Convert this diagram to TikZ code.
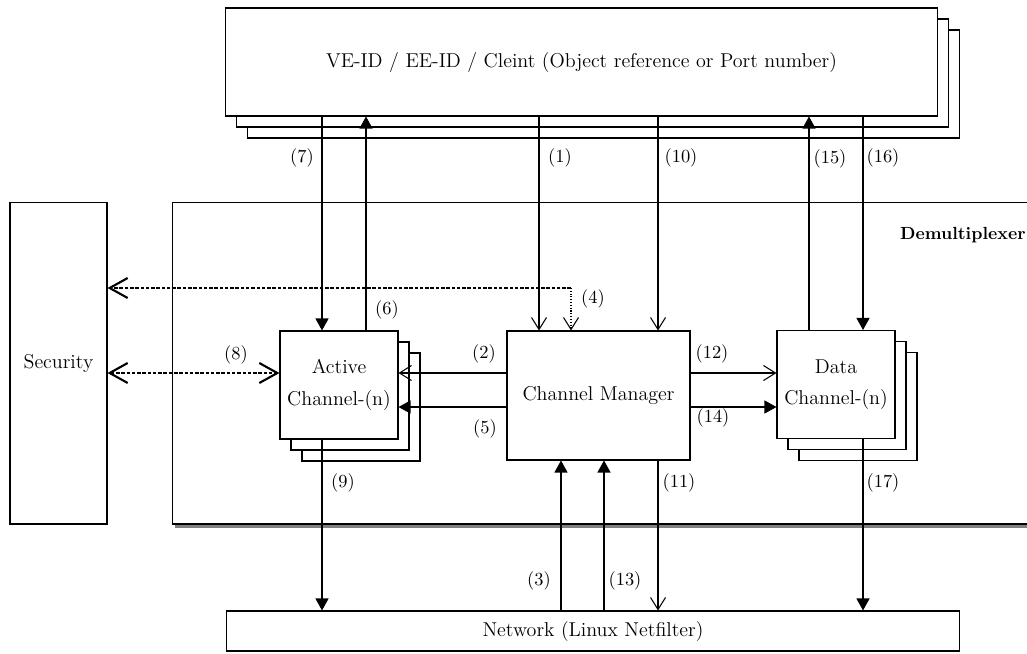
\documentclass[tikz,border=0pt]{standalone}
\usepackage{tikz}
\usetikzlibrary{arrows.meta,shadows,positioning}

\newcommand{\boxfont}{\fontsize{11.4}{18}\selectfont}
\newcommand{\lblfont}{\fontsize{10.5}{12}\selectfont}

\begin{document}
\begin{tikzpicture}[
    x=0.02cm, y=-0.02cm,
    box/.style={rectangle, draw, fill=white, line width=0.6pt, inner sep=0pt, align=center, font=\boxfont},
    stack/.style={box, copy shadow={shadow xshift=0.44cm, shadow yshift=-0.44cm},
        copy shadow={shadow xshift=0.22cm, shadow yshift=-0.22cm}},
    solidarr/.style={line width=0.6pt, -{Triangle[length=0.24cm, width=0.26cm]}},
    openarr/.style={line width=0.6pt, -{Straight Barb[length=0.24cm, width=0.3cm]}},
    secline/.style={line width=1.5pt, dash pattern=on 2pt off 1pt},
    secarr/.style={secline, -{Straight Barb[length=0.36cm, width=0.4cm, line width=1.2pt]}},
    secboth/.style={secline, {Straight Barb[length=0.36cm, width=0.4cm, line width=1.2pt]}-{Straight Barb[length=0.36cm, width=0.4cm, line width=1.2pt]}},
    lbl/.style={font=\lblfont, inner sep=0pt}
]
    \clip (0,0) rectangle (1027,653);

    % Demultiplexer frame
    \node[box, minimum width=17.36cm, minimum height=6.44cm,
        drop shadow={shadow xshift=0.06cm, shadow yshift=-0.06cm, opacity=1, fill=black!50, draw=black!50}]
        (demux) at (606,363) {};
    \node[font=\fontsize{10}{12}\selectfont\bfseries, anchor=east, inner sep=0pt] (demuxlbl) at (1026,235) {Demultiplexer};

    % Boxes
    \node[stack, minimum width=14.26cm, minimum height=2.16cm] (top) at (581.5,62)
        {VE-ID / EE-ID / Cleint (Object reference or Port number)};
    \node[box, minimum width=1.94cm, minimum height=6.44cm] (sec) at (58.5,363) {Security};
    \node[stack, minimum width=2.36cm, minimum height=2.16cm] (act) at (339,385) {Active\\Channel-(n)};
    \node[box, minimum width=3.66cm, minimum height=2.58cm] (cm) at (598.5,395.5) {Channel Manager};
    \node[stack, minimum width=2.36cm, minimum height=2.16cm] (data) at (836,384.5) {Data\\Channel-(n)};
    \node[box, minimum width=14.68cm, minimum height=0.8cm] (net) at (593,631) {Network (Linux Netfilter)};

    % Lanes
    \coordinate (x7) at (322,0);
    \coordinate (x6) at (366,0);
    \coordinate (x1) at (539,0);
    \coordinate (x4) at (571,288);
    \coordinate (x3) at (561,0);
    \coordinate (x13) at (604,0);
    \coordinate (x10) at (658,0);
    \coordinate (x15) at (809,0);
    \coordinate (x16) at (863,0);
    \coordinate (y2) at (0,373);
    \coordinate (y5) at (0,407);

    % Connectors
    \draw[solidarr] (top.south -| x7) -- (act.north -| x7);
    \draw[solidarr] (act.north -| x6) -- (top.south -| x6);
    \draw[openarr] (top.south -| x1) -- (cm.north -| x1);
    \draw[openarr] (top.south -| x10) -- (cm.north -| x10);
    \draw[solidarr] (data.north -| x15) -- (top.south -| x15);
    \draw[solidarr] (top.south -| x16) -- (data.north -| x16);
    \draw[openarr] (cm.west |- y2) -- (act.east |- y2);
    \draw[solidarr] (cm.west |- y5) -- (act.east |- y5);
    \draw[openarr] (cm.east |- y2) -- (data.west |- y2);
    \draw[solidarr] (cm.east |- y5) -- (data.west |- y5);
    \draw[solidarr] (net.north -| x3) -- (cm.south -| x3);
    \draw[solidarr] (net.north -| x13) -- (cm.south -| x13);
    \draw[openarr] (cm.south -| x10) -- (net.north -| x10);
    \draw[solidarr] (act.south -| x7) -- (net.north -| x7);
    \draw[solidarr] (data.south -| x16) -- (net.north -| x16);
    \draw[secarr] (x4) -- (sec.east |- x4);
    \draw[openarr, densely dotted] (x4) -- (cm.north -| x4);
    \draw[secboth] (sec.east |- y2) -- (act.west |- y2);

    % Labels
    \foreach \t/\x/\y in {7/302/158, 1/560/158, 10/681/158, 15/830/159, 16/883/158,
        6/387/310, 4/593/299, 8/236/355, 2/484/354, 5/485/429, 12/712/354, 14/713/418,
        9/343/483, 11/679/483, 17/883/483, 3/539/581, 13/625/581}
        \node[lbl] (l\t) at (\x,\y) {(\t)};
\end{tikzpicture}
\end{document}
